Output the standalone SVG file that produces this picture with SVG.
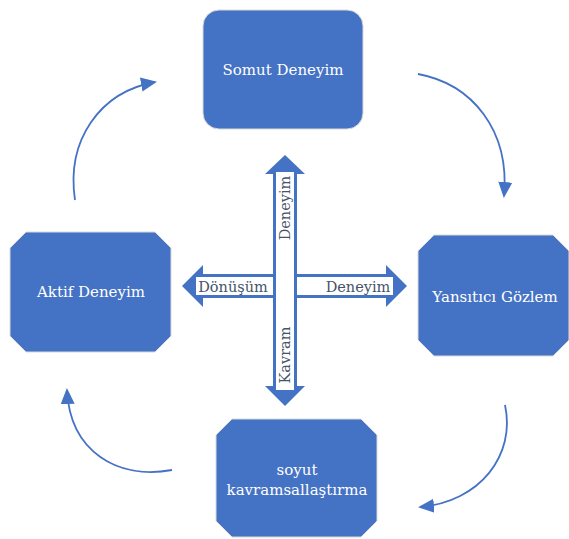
<svg xmlns="http://www.w3.org/2000/svg" width="569" height="539" viewBox="0 0 569 539">
<defs>
<style>
.box{fill:#4472C4;stroke:#d9d9d9;stroke-width:1}
.lbl{font-family:"DejaVu Serif","Liberation Serif",serif;font-size:15px;fill:#ffffff;text-anchor:middle}
.arr{fill:#4472C4}
.win{fill:#ffffff}
.xt{font-family:"DejaVu Serif","Liberation Serif",serif;font-size:14.5px;fill:#44546A;text-anchor:middle}
.cyc{fill:none;stroke:#4472C4;stroke-width:1.8}
</style>
<marker id="ah" markerUnits="userSpaceOnUse" markerWidth="16" markerHeight="16" viewBox="0 0 16 16" refX="14" refY="8" orient="auto">
<path d="M0,1 L16,8 L0,15 Z" fill="#4472C4"/>
</marker>
</defs>

<g id="connectors">
<path class="cyc" d="M75,200 C66,140 100,92 155,82" marker-end="url(#ah)"/>
<path class="cyc" d="M418,74 C472,84 510,130 504,196" marker-end="url(#ah)"/>
<path class="cyc" d="M505,405 C516,455 480,502 420,507" marker-end="url(#ah)"/>
<path class="cyc" d="M172,470 C118,480 70,452 67,390" marker-end="url(#ah)"/>
</g>

<g id="node-somut">
<rect class="box" x="203" y="10" width="160" height="119" rx="16"/>
<text class="lbl" x="283" y="75">Somut Deneyim</text>
</g>

<g id="node-aktif">
<polygon class="box" points="26,232 155,232 171,248 171,336 155,352 26,352 10,336 10,248"/>
<text class="lbl" x="91" y="297">Aktif Deneyim</text>
</g>

<g id="node-yansitici">
<polygon class="box" points="434,235 553,235 569,251 569,340 553,356 434,356 418,340 418,251"/>
<text class="lbl" x="495" y="302">Yansıtıcı Gözlem</text>
</g>

<g id="node-soyut">
<polygon class="box" points="232,419 361,419 377,435 377,521 361,537 232,537 216,521 216,435"/>
<text class="lbl" x="297" y="475">soyut</text>
<text class="lbl" x="297" y="495">kavramsallaştırma</text>
</g>

<g id="cross-horizontal">
<polygon class="arr" points="182,286 203,265 203,274 386,274 386,265 407,286 386,307 386,298 203,298 203,307"/>
<rect class="win" x="196" y="277" width="197" height="18"/>
<text class="xt" x="233" y="292">Dönüşüm</text>
<text class="xt" x="358" y="292">Deneyim</text>
</g>

<g id="cross-vertical">
<polygon class="arr" points="285,155 305,174 297,174 297,386 305,386 285,406 265,386 273,386 273,174 265,174"/>
<rect class="win" x="276" y="172" width="18" height="218"/>
<text class="xt" transform="translate(290,208) rotate(-90)">Deneyim</text>
<text class="xt" transform="translate(290,355) rotate(-90)">Kavram</text>
</g>
</svg>
